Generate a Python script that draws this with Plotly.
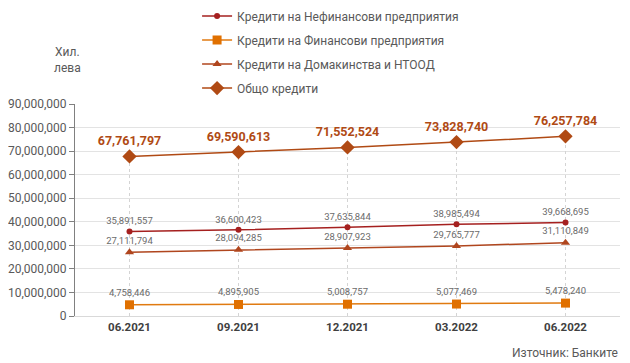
import plotly.graph_objects as go

categories = ["06.2021", "09.2021", "12.2021", "03.2022", "06.2022"]
nonfin = [35891557, 36600423, 37635844, 38985494, 39668695]
fin = [4758446, 4895905, 5008757, 5077469, 5478240]
households = [27111794, 28094285, 28907923, 29765777, 31110849]
total = [67761797, 69590613, 71552524, 73828740, 76257784]

names = ["Кредити на Нефинансови предприятия", "Кредити на Финансови предприятия",
         "Кредити на Домакинства и НТООД", "Общо кредити"]

FONT = "Roboto"

fig = go.Figure()

# drop lines
for c, t in zip(categories, total):
    fig.add_trace(go.Scatter(x=[c, c], y=[0, t], mode="lines",
                             line=dict(color="#d4d4d4", width=1, dash="dot"),
                             showlegend=False, hoverinfo="skip"))

def fmt(v):
    return f"{v:,}"

lab_font = dict(family=FONT, size=9.5, color="#6b6b6b")

fig.add_trace(go.Scatter(x=categories, y=nonfin, name=names[0], mode="lines+markers+text",
                         line=dict(color="#A5201F", width=1.5),
                         marker=dict(symbol="circle", size=6, color="#A5201F"),
                         text=[fmt(v) for v in nonfin], textposition="top center",
                         textfont=lab_font, legendgroup="a", legendrank=1))
fig.add_trace(go.Scatter(x=categories, y=fin, name=names[1], mode="lines+markers+text",
                         line=dict(color="#E07A10", width=1.5),
                         marker=dict(symbol="square", size=9, color="#E07000"),
                         text=[fmt(v) for v in fin], textposition="top center",
                         textfont=lab_font, legendgroup="b", legendrank=2))
fig.add_trace(go.Scatter(x=categories, y=households, name=names[2], mode="lines+markers+text",
                         line=dict(color="#B0461E", width=1.5),
                         marker=dict(symbol="triangle-up", size=8, color="#B0461E"),
                         text=[fmt(v) for v in households], textposition="top center",
                         textfont=lab_font, legendgroup="c", legendrank=3))
fig.add_trace(go.Scatter(x=categories, y=total, name=names[3], mode="lines+markers+text",
                         line=dict(color="#B04A14", width=1.5),
                         marker=dict(symbol="diamond", size=11, color="#B04A14"),
                         text=[f"<b>{fmt(v)}</b>" for v in total], textposition="top center",
                         textfont=dict(family=FONT, size=12.5, color="#B04A14"),
                         legendgroup="d", legendrank=4))

# page body has an 8px margin; compensate so the chart lands where the reference has it
fig.update_layout(
    width=622, height=355,
    margin=dict(l=67, r=10, t=96, b=47, autoexpand=False),
    paper_bgcolor="white", plot_bgcolor="white",
    font=dict(family=FONT, color="#595959"),
    showlegend=True,
    legend=dict(x=0.224, y=1.483, xanchor="left", yanchor="top",
                font=dict(family=FONT, size=12, color="#595959"),
                tracegroupgap=5, bgcolor="rgba(0,0,0,0)"),
    xaxis=dict(type="category", showgrid=False, showline=True, linecolor="#d9d9d9",
               ticks="", tickfont=dict(family=FONT, size=11.5, color="#404040", weight="bold"),
               range=[-0.5, 4.5]),
    yaxis=dict(range=[0, 90000000], dtick=10000000, tickformat=",d",
               showgrid=True, gridcolor="#e3e3e3", gridwidth=1,
               showline=True, linecolor="#808080", ticks="outside", ticklen=5,
               tickcolor="#808080", zeroline=False,
               tickfont=dict(family=FONT, size=12, color="#595959")),
    annotations=[
        dict(text="Хил.<br>лева", xref="paper", yref="paper", x=-0.013, y=1.29,
             xanchor="center", yanchor="top", showarrow=False,
             font=dict(family=FONT, size=12, color="#595959")),
        dict(text="Източник: Банките", xref="paper", yref="paper", x=1.0, y=-0.13,
             xanchor="right", yanchor="top", showarrow=False,
             font=dict(family=FONT, size=12, color="#595959")),
    ],
)

fig.write_html("out.html")
